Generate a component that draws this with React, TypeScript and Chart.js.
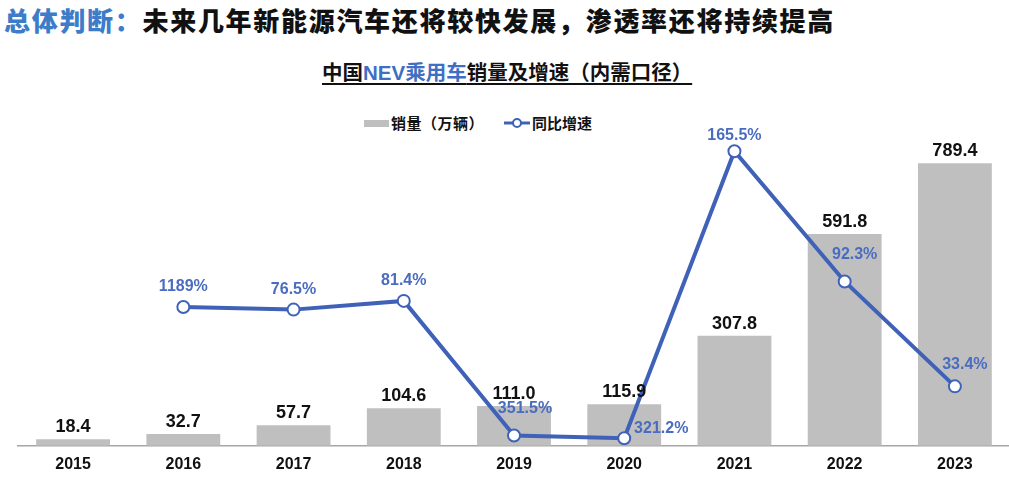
import React, { useEffect, useRef } from "react";
import { Chart, registerables } from "chart.js";

Chart.register(...registerables);

const years = ["2015", "2016", "2017", "2018", "2019", "2020", "2021", "2022", "2023"];
const sales = [18.4, 32.7, 57.7, 104.6, 111.0, 115.9, 307.8, 591.8, 789.4];
const growth = [null, 78.0, 76.5, 81.4, 5.8, 4.2, 165.5, 92.3, 33.4];
const growthLabels = ["", "1189%", "76.5%", "81.4%", "351.5%", "321.2%", "165.5%", "92.3%", "33.4%"];

const BLUE = "#3F62B8";
const LABEL_BLUE = "#4A6CC0";
const GRAY = "#BFBFBF";
const FONT = "'Liberation Sans', 'Noto Sans CJK SC', sans-serif";
const CJK = "'Noto Sans CJK SC', sans-serif";

// label placement offsets (style, per index)
const lineLabelOffset: Record<number, [number, number]> = {
  4: [11, -27],
  5: [37, -10],
  6: [0, -16],
  7: [10, -27],
  8: [10, -22],
};

const labelPlugin = {
  id: "labels",
  afterDatasetsDraw(chart: any) {
    const ctx = chart.ctx;
    ctx.save();
    const bars = chart.getDatasetMeta(0).data;
    ctx.font = `bold 18px ${FONT}`;
    ctx.fillStyle = "#111";
    ctx.textAlign = "center";
    ctx.textBaseline = "alphabetic";
    bars.forEach((b: any, i: number) => {
      ctx.fillText(sales[i].toFixed(1), b.x, b.y - 7);
    });
    const pts = chart.getDatasetMeta(1).data;
    ctx.font = `bold 16px ${FONT}`;
    ctx.fillStyle = LABEL_BLUE;
    ctx.textBaseline = "middle";
    pts.forEach((p: any, i: number) => {
      if (growth[i] == null) return;
      const off = lineLabelOffset[i] || [0, -20];
      ctx.fillText(growthLabels[i], p.x + off[0], p.y + off[1]);
    });
    ctx.restore();
  },
};

const CANVAS_W = 1018;

export default function App() {
  const ref = useRef<HTMLCanvasElement>(null);
  useEffect(() => {
    const chart = new Chart(ref.current!, {
      type: "bar",
      data: {
        labels: years,
        datasets: [
          {
            type: "bar",
            label: "销量（万辆）",
            data: sales,
            backgroundColor: GRAY,
            borderWidth: 0,
            barPercentage: 0.67,
            categoryPercentage: 1,
            yAxisID: "y",
            order: 2,
          },
          {
            type: "line",
            label: "同比增速",
            data: growth as any,
            borderColor: BLUE,
            borderWidth: 4,
            pointRadius: 6,
            pointBorderWidth: 2,
            pointBackgroundColor: "#fff",
            pointBorderColor: BLUE,
            yAxisID: "y2",
            order: 1,
            spanGaps: false,
          },
        ],
      },
      options: {
        animation: false,
        responsive: false,
        layout: { padding: { left: 18, right: 0, top: 88, bottom: 2 } },
        plugins: { legend: { display: false }, tooltip: { enabled: false } },
        scales: {
          x: {
            grid: { display: false, drawTicks: false },
            border: { display: true, color: "#A6A6A6", width: 1.5 },
            ticks: { color: "#111", font: { family: FONT, size: 16, weight: "bold" }, padding: 9 },
          },
          y: { display: false, min: 0, max: 1000 },
          y2: { display: false, min: 0, max: 201 },
        },
      },
      plugins: [labelPlugin],
    });
    return () => chart.destroy();
  }, []);

  return (
    <div style={{ position: "fixed", left: 0, top: 0, width: 1009, height: 485, background: "#fff", overflow: "hidden" }}>
      <div
        style={{
          position: "absolute",
          left: 4,
          top: 4,
          fontFamily: CJK,
          fontWeight: 900,
          fontSize: 26,
          lineHeight: "32px",
          letterSpacing: 1.7,
          whiteSpace: "nowrap",
          color: "#111",
        }}
      >
        <span style={{ color: "#3D7CC9" }}>总体判断：</span>未来几年新能源汽车还将较快发展，渗透率还将持续提高
      </div>
      <div
        style={{
          position: "absolute",
          left: 322,
          top: 60,
          fontFamily: FONT,
          fontWeight: 700,
          fontSize: 20.5,
          lineHeight: "26px",
          whiteSpace: "nowrap",
          color: "#111",
          textDecoration: "underline",
          textDecorationThickness: 2,
          textUnderlineOffset: 3,
        }}
      >
        中国<span style={{ color: "#3F6FC4" }}>NEV乘用车</span>销量及增速（内需口径）
      </div>
      <div
        style={{
          position: "absolute",
          left: 364,
          top: 112,
          display: "flex",
          alignItems: "center",
          fontFamily: CJK,
          fontWeight: 700,
          fontSize: 15,
          lineHeight: "22px",
          color: "#111",
          whiteSpace: "nowrap",
        }}
      >
        <span style={{ display: "inline-block", width: 25, height: 7, background: GRAY, marginRight: 2 }} />
        <span style={{ letterSpacing: 0.5 }}>销量（万辆）</span>
        <span style={{ display: "inline-block", width: 20 }} />
        <svg width={26} height={12} style={{ marginRight: 2 }}>
          <line x1={0} y1={6} x2={26} y2={6} stroke={BLUE} strokeWidth={3} />
          <circle cx={13} cy={6} r={4} fill="#fff" stroke={BLUE} strokeWidth={2} />
        </svg>
        <span>同比增速</span>
      </div>
      <canvas
        ref={ref}
        width={CANVAS_W}
        height={485}
        style={{ position: "absolute", left: 0, top: 0, width: CANVAS_W, height: 485 }}
      />
    </div>
  );
}
